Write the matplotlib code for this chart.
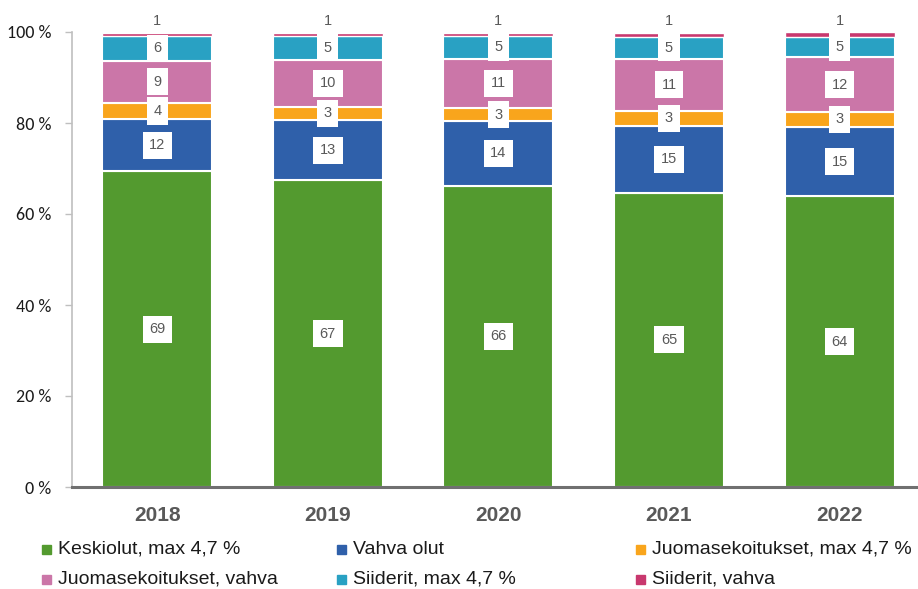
import matplotlib
matplotlib.use("Agg")
import matplotlib.pyplot as plt
from matplotlib.patches import Rectangle
from matplotlib import font_manager as fm
import numpy as np

years = ["2018", "2019", "2020", "2021", "2022"]
series_names = ["Keskiolut, max 4,7 %", "Vahva olut", "Juomasekoitukset, max 4,7 %",
                "Juomasekoitukset, vahva", "Siiderit, max 4,7 %", "Siiderit, vahva"]
keskiolut = [69.4, 67.4, 66.2, 64.7, 63.9]
vahva_olut = [11.5, 13.3, 14.2, 14.6, 15.2]
juoma_max = [3.5, 2.9, 2.9, 3.4, 3.4]
juoma_vahva = [9.3, 10.3, 10.8, 11.4, 11.9]
siiderit_max = [5.5, 5.2, 5.0, 4.8, 4.6]
siiderit_vahva = [0.6, 0.7, 0.7, 0.9, 1.0]
labels_k = [69, 67, 66, 65, 64]
labels_v = [12, 13, 14, 15, 15]
labels_jm = [4, 3, 3, 3, 3]
labels_jv = [9, 10, 11, 11, 12]
labels_sm = [6, 5, 5, 5, 5]
labels_sv = [1, 1, 1, 1, 1]
yticks = [0, 20, 40, 60, 80, 100]

colors = ["#539A2F", "#2F60AA", "#F9A51C", "#CB76A8", "#29A1C3", "#C8386E"]

avail = {f.name for f in fm.fontManager.ttflist}
narrow = "Liberation Sans Narrow" if "Liberation Sans Narrow" in avail else "Liberation Sans"
tickfont = "Carlito" if "Carlito" in avail else "Lato"

W, H = 918, 589
fig = plt.figure(figsize=(W / 100, H / 100), dpi=100)
ax = fig.add_axes([72 / W, 1 - 487 / H, (W - 72) / W, (487 - 32) / H])

data = [keskiolut, vahva_olut, juoma_max, juoma_vahva, siiderit_max, siiderit_vahva]
labs = [labels_k, labels_v, labels_jm, labels_jv, labels_sm, labels_sv]
x = np.arange(len(years))
bottom = np.zeros(len(years))
for vals, lab, col in zip(data[:-1], labs[:-1], colors[:-1]):
    vals = np.array(vals)
    ax.bar(x, vals, width=0.645, bottom=bottom, color=col, edgecolor="white", linewidth=1.5, zorder=2)
    for xi, b, v, l in zip(x, bottom, vals, lab):
        ax.text(xi, b + v / 2, str(l), ha="center", va="center", fontsize=10.5,
                family="Liberation Sans", color="#595959", zorder=5,
                bbox=dict(boxstyle="square,pad=0.45", fc="white", ec="none"))
    bottom = bottom + vals
vals = np.array(siiderit_vahva)
ax.bar(x, vals, width=0.645, bottom=bottom, color=colors[-1], edgecolor="white", linewidth=1.0, zorder=2)
for xi, l in zip(x, labels_sv):
    ax.text(xi, 102.4, str(l), ha="center", va="center", fontsize=10.5,
            family="Liberation Sans", color="#595959", clip_on=False)

ax.set_xlim(-0.5, 4.46)
ax.set_ylim(0, 100)
ax.set_yticks(yticks)
ax.set_yticklabels([f"{t} %" for t in yticks], family=tickfont, fontsize=13, color="#1a1a1a")
ax.tick_params(axis="y", length=5, color="#BFBFBF", width=1, pad=10)
ax.set_xticks(x)
ax.set_xticklabels(years, fontsize=15, fontweight="bold", color="#595959", family=narrow)
ax.tick_params(axis="x", length=0, pad=14)
for s in ["top", "right"]:
    ax.spines[s].set_visible(False)
ax.spines["left"].set_color("#BFBFBF")
ax.spines["left"].set_linewidth(1.2)
ax.spines["bottom"].set_color("#707070")
ax.spines["bottom"].set_linewidth(2.2)
ax.spines["bottom"].set_zorder(6)

# legend
cols_x = [42, 337, 636]
rows_y = [549, 579]
for i, (name, col) in enumerate(zip(series_names, colors)):
    r, c = divmod(i, 3)
    mx, my = cols_x[c], rows_y[r]
    fig.patches.append(Rectangle((mx / W, 1 - (my + 4.5) / H), 9 / W, 9 / H,
                                 transform=fig.transFigure, color=col))
    fig.text((mx + 16) / W, 1 - my / H, name, ha="left", va="center",
             fontsize=14, family=narrow, color="#1a1a1a")

fig.savefig("out.png", dpi=100)
